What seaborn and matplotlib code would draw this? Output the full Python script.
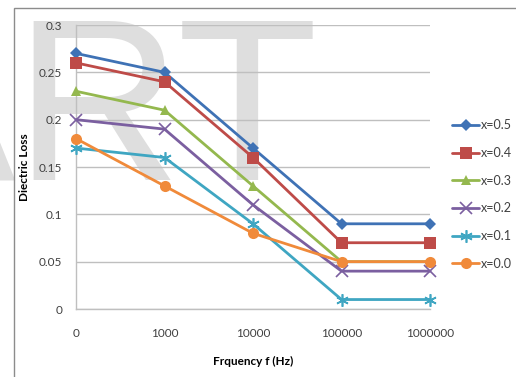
import matplotlib
matplotlib.use("Agg")
import matplotlib.pyplot as plt
import matplotlib.patches as mpatches
import seaborn as sns
import pandas as pd

# Frequency categories (evenly spaced on the axis)
freq_labels = ["0", "1000", "10000", "100000", "1000000"]

# Dielectric loss for each composition
loss_x05 = [0.27, 0.25, 0.17, 0.09, 0.09]
loss_x04 = [0.26, 0.24, 0.16, 0.07, 0.07]
loss_x03 = [0.23, 0.21, 0.13, 0.05, 0.05]
loss_x02 = [0.20, 0.19, 0.11, 0.04, 0.04]
loss_x01 = [0.17, 0.16, 0.09, 0.01, 0.01]
loss_x00 = [0.18, 0.13, 0.08, 0.05, 0.05]

series_names = ["x=0.5", "x=0.4", "x=0.3", "x=0.2", "x=0.1", "x=0.0"]
series_values = [loss_x05, loss_x04, loss_x03, loss_x02, loss_x01, loss_x00]

colors = ["#3F72B5", "#BE4B48", "#94B84E", "#7B5FA0", "#3FA6C2", "#F08A3A"]
markers = ["D", "s", "^", "x", (6, 2, 0), "o"]
msizes = [6, 8.5, 7.5, 8, 9, 8]

rows = []
for name, vals in zip(series_names, series_values):
    for i, v in enumerate(vals):
        rows.append({"series": name, "pos": i, "loss": v})
df = pd.DataFrame(rows)

sns.set_style("white")
plt.rcParams["font.family"] = ["Lato", "DejaVu Sans"]

fig = plt.figure(figsize=(5.16, 3.77), dpi=100)
fig.patch.set_facecolor("white")

# light watermark lettering behind the plot
fig.text(-138 / 516, 1 - 180 / 377, "ART", fontsize=166, family="Liberation Sans",
         color="#dedede", ha="left", va="baseline", zorder=-10)

# outer chart frame
frame = mpatches.Rectangle((14 / 516, -0.05), 1.2, 1 - 8 / 377 + 0.05,
                           transform=fig.transFigure, fill=False,
                           edgecolor="#8c8c8c", linewidth=1.0, zorder=-5)
fig.patches.append(frame)

ax = fig.add_axes([76 / 516, 1 - 309 / 377, 354 / 516, 284 / 377])
ax.patch.set_alpha(0)

for name, col, mk, ms in zip(series_names, colors, markers, msizes):
    sub = df[df["series"] == name]
    sns.lineplot(data=sub, x="pos", y="loss", ax=ax, color=col, marker=mk,
                 markersize=ms, markeredgecolor=col,
                 markeredgewidth=1.2 if mk in ("x", (6, 2, 0)) else 0,
                 linewidth=2.0, label=name, clip_on=False, zorder=3)

ax.set_xlim(0, 4)
ax.set_ylim(0, 0.3)
ax.set_yticks([0, 0.05, 0.1, 0.15, 0.2, 0.25, 0.3])
ax.set_yticklabels(["0", "0.05", "0.1", "0.15", "0.2", "0.25", "0.3"])
ax.set_xticks(range(len(freq_labels)))
ax.set_xticklabels(freq_labels)
ax.set_xticks([0, 2, 4], minor=True)

ax.yaxis.grid(True, color="#bfbfbf", linewidth=1.0)
ax.set_axisbelow(True)
for side in ["top", "right"]:
    ax.spines[side].set_visible(False)
for side in ["left", "bottom"]:
    ax.spines[side].set_color("#bfbfbf")
    ax.spines[side].set_linewidth(1.0)

ax.tick_params(axis="y", which="major", length=4, color="#bfbfbf", width=1,
               labelsize=8.5, labelcolor="#404040", pad=6)
ax.tick_params(axis="x", which="major", length=0, labelsize=8.5,
               labelcolor="#404040", pad=14)
ax.tick_params(axis="x", which="minor", length=4, color="#bfbfbf", width=1,
               direction="out")

ax.set_xlabel("Frquency f (Hz)", fontsize=8.5, fontweight="bold", color="#000000",
              labelpad=12)
ax.set_ylabel("Diectric Loss", fontsize=8.5, fontweight="bold", color="#000000",
              labelpad=6)

leg = ax.legend(loc="center left", bbox_to_anchor=(1.062, 0.403), frameon=False,
                fontsize=9, handlelength=2.2, handletextpad=0.15,
                labelspacing=1.25, borderaxespad=0, borderpad=0)
for t in leg.get_texts():
    t.set_color("#404040")

fig.savefig("out.png", dpi=100, facecolor=fig.get_facecolor())
